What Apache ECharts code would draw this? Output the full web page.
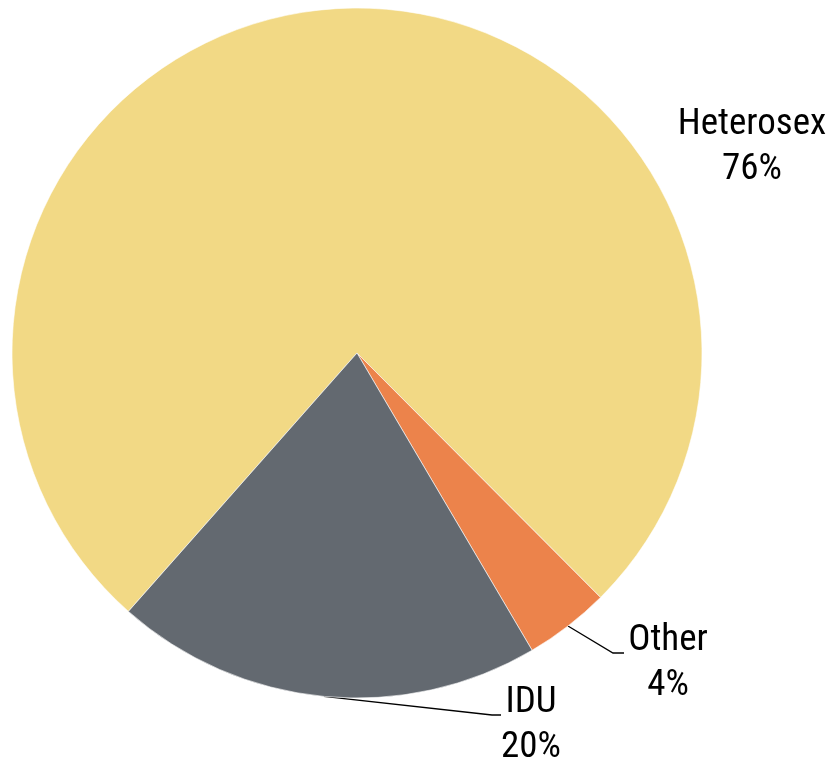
<!DOCTYPE html>
<html>
<head>
<meta charset="utf-8">
<script src="https://cdn.jsdelivr.net/npm/echarts@6/dist/echarts.min.js"></script>
<style>
html,body{margin:0;padding:0;background:#fff;}
#chart{width:829px;height:762px;}
</style>
</head>
<body>
<div id="chart"></div>
<script>
const categories = ['Heterosex', 'Other', 'IDU'];
const values = [76, 4, 20];
const colors = ['#F2D985', '#EC834B', '#636970'];

const FONT = "'Liberation Sans Narrow', 'Arial Narrow', 'Roboto Condensed', 'Liberation Sans', sans-serif";

// label placement (centre of text block) and leader-line bends, per category
const labelPos = {
  'Heterosex': { x: 752, y: 147, line: null },
  'Other': { x: 668, y: 663, line: [[613, 653], [624, 653]] },
  'IDU': { x: 531, y: 725, line: [[492, 715], [501, 715]] }
};

const chart = echarts.init(document.getElementById('chart'));
chart.setOption({
  animation: false,
  backgroundColor: '#fff',
  series: [{
    type: 'pie',
    center: [357, 353],
    radius: [0, 345],
    startAngle: 228.5,
    clockwise: true,
    avoidLabelOverlap: false,
    itemStyle: { borderColor: '#fff', borderWidth: 0.6 },
    data: categories.map((c, i) => ({
      name: c,
      value: values[i],
      itemStyle: { color: colors[i] }
    })),
    label: {
      show: true,
      position: 'outside',
      formatter: '{b}\n{c}%',
      fontFamily: FONT,
      fontSize: 37,
      lineHeight: 45,
      color: '#000',
      align: 'center'
    },
    labelLine: {
      show: true,
      length: 20,
      length2: 10,
      lineStyle: { color: '#000', width: 1.3 }
    },
    labelLayout: function (params) {
      const name = categories[params.dataIndex];
      const p = labelPos[name];
      const res = { x: p.x, y: p.y, align: 'center', verticalAlign: 'middle' };
      if (p.line && params.labelLinePoints) {
        const p0 = params.labelLinePoints[0];
        res.labelLinePoints = [p0, p.line[0], p.line[1]];
      } else {
        res.labelLinePoints = [[p.x, p.y], [p.x, p.y], [p.x, p.y]];
      }
      return res;
    }
  }]
});
</script>
</body>
</html>
